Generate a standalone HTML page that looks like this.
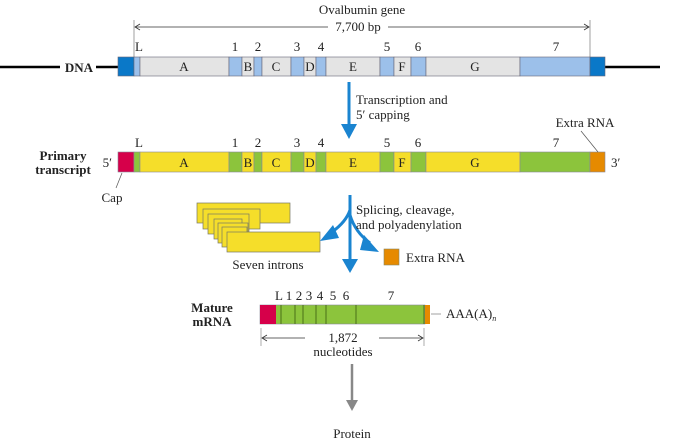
<!DOCTYPE html>
<html><head><meta charset="utf-8"><style>
body{margin:0;background:#fff}
svg{display:block}
text{font-family:"Liberation Serif",serif;font-size:13px;fill:#222}
.b{font-weight:bold}
</style></head><body>
<svg width="692" height="441" viewBox="0 0 692 441">
<!-- title -->
<text x="362" y="14" text-anchor="middle" font-size="14">Ovalbumin gene</text>
<line x1="134" y1="20" x2="134" y2="57" stroke="#888" stroke-width="0.8"/>
<line x1="590" y1="20" x2="590" y2="57" stroke="#888" stroke-width="0.8"/>
<line x1="135" y1="27" x2="328" y2="27" stroke="#333" stroke-width="0.8"/>
<path d="M140,24 L135,27 L140,30" fill="none" stroke="#333" stroke-width="0.8"/>
<line x1="388" y1="27" x2="589" y2="27" stroke="#333" stroke-width="0.8"/>
<path d="M584,24 L589,27 L584,30" fill="none" stroke="#333" stroke-width="0.8"/>
<text x="358" y="31" text-anchor="middle">7,700 bp</text>

<!-- DNA -->
<line x1="0" y1="67" x2="60" y2="67" stroke="#000" stroke-width="2.5"/>
<line x1="96" y1="67" x2="118" y2="67" stroke="#000" stroke-width="2.5"/>
<line x1="605" y1="67" x2="660" y2="67" stroke="#000" stroke-width="2.5"/>
<text x="93" y="72" text-anchor="end" class="b">DNA</text>
<g stroke="#667" stroke-width="0.6">
<rect x="118" y="57" width="16" height="19" fill="#0a78c8"/>
<rect x="134" y="57" width="6" height="19" fill="#9cc0ea"/>
<rect x="140" y="57" width="89" height="19" fill="#e4e4e4"/>
<rect x="229" y="57" width="13" height="19" fill="#9cc0ea"/>
<rect x="242" y="57" width="12" height="19" fill="#e4e4e4"/>
<rect x="254" y="57" width="8" height="19" fill="#9cc0ea"/>
<rect x="262" y="57" width="29" height="19" fill="#e4e4e4"/>
<rect x="291" y="57" width="13" height="19" fill="#9cc0ea"/>
<rect x="304" y="57" width="12" height="19" fill="#e4e4e4"/>
<rect x="316" y="57" width="10" height="19" fill="#9cc0ea"/>
<rect x="326" y="57" width="54" height="19" fill="#e4e4e4"/>
<rect x="380" y="57" width="14" height="19" fill="#9cc0ea"/>
<rect x="394" y="57" width="17" height="19" fill="#e4e4e4"/>
<rect x="411" y="57" width="15" height="19" fill="#9cc0ea"/>
<rect x="426" y="57" width="94" height="19" fill="#e4e4e4"/>
<rect x="520" y="57" width="70" height="19" fill="#9cc0ea"/>
<rect x="590" y="57" width="15" height="19" fill="#0a78c8"/>
</g>
<g text-anchor="middle">
<text x="184" y="71">A</text><text x="248" y="71">B</text><text x="276" y="71">C</text><text x="310" y="71">D</text><text x="353" y="71">E</text><text x="402" y="71">F</text><text x="475" y="71">G</text>
<text x="139" y="51">L</text><text x="235" y="51">1</text><text x="258" y="51">2</text><text x="297" y="51">3</text><text x="321" y="51">4</text><text x="387" y="51">5</text><text x="418" y="51">6</text><text x="556" y="51">7</text>
</g>

<!-- arrow 1 -->
<line x1="349" y1="82" x2="349" y2="127" stroke="#1a84d0" stroke-width="3"/>
<path d="M341,124 L349,139 L357,124 Z" fill="#1a84d0"/>
<text x="356" y="104">Transcription and</text>
<text x="356" y="119">5′ capping</text>

<!-- primary transcript -->
<text x="63" y="160" text-anchor="middle" class="b">Primary</text>
<text x="63" y="174" text-anchor="middle" class="b">transcript</text>
<text x="112" y="167" text-anchor="end">5′</text>
<text x="611" y="167">3′</text>
<g stroke="#889" stroke-width="0.6">
<rect x="118" y="152" width="16" height="20" fill="#d6004a"/>
<rect x="134" y="152" width="6" height="20" fill="#8cc43c"/>
<rect x="140" y="152" width="89" height="20" fill="#f5de2a"/>
<rect x="229" y="152" width="13" height="20" fill="#8cc43c"/>
<rect x="242" y="152" width="12" height="20" fill="#f5de2a"/>
<rect x="254" y="152" width="8" height="20" fill="#8cc43c"/>
<rect x="262" y="152" width="29" height="20" fill="#f5de2a"/>
<rect x="291" y="152" width="13" height="20" fill="#8cc43c"/>
<rect x="304" y="152" width="12" height="20" fill="#f5de2a"/>
<rect x="316" y="152" width="10" height="20" fill="#8cc43c"/>
<rect x="326" y="152" width="54" height="20" fill="#f5de2a"/>
<rect x="380" y="152" width="14" height="20" fill="#8cc43c"/>
<rect x="394" y="152" width="17" height="20" fill="#f5de2a"/>
<rect x="411" y="152" width="15" height="20" fill="#8cc43c"/>
<rect x="426" y="152" width="94" height="20" fill="#f5de2a"/>
<rect x="520" y="152" width="70" height="20" fill="#8cc43c"/>
<rect x="590" y="152" width="15" height="20" fill="#e68a00"/>
</g>
<g text-anchor="middle">
<text x="184" y="167">A</text><text x="248" y="167">B</text><text x="276" y="167">C</text><text x="310" y="167">D</text><text x="353" y="167">E</text><text x="402" y="167">F</text><text x="475" y="167">G</text>
<text x="139" y="147">L</text><text x="235" y="147">1</text><text x="258" y="147">2</text><text x="297" y="147">3</text><text x="321" y="147">4</text><text x="387" y="147">5</text><text x="418" y="147">6</text><text x="556" y="147">7</text>
</g>
<line x1="122" y1="173" x2="116" y2="188" stroke="#555" stroke-width="0.7"/>
<text x="112" y="202" text-anchor="middle">Cap</text>
<line x1="581" y1="131" x2="598" y2="152" stroke="#555" stroke-width="0.7"/>
<text x="585" y="127" text-anchor="middle">Extra RNA</text>

<!-- introns -->
<g fill="#f5de2a" stroke="#776" stroke-width="0.7">
<rect x="197" y="203" width="93" height="20"/>
<rect x="203" y="209" width="57" height="20"/>
<rect x="208" y="214" width="41" height="20"/>
<rect x="214" y="219" width="28" height="20"/>
<rect x="218" y="223" width="30" height="20"/>
<rect x="222" y="227" width="25" height="20"/>
<rect x="227" y="232" width="93" height="20"/>
</g>
<text x="268" y="269" text-anchor="middle">Seven introns</text>

<!-- arrow 2 -->
<g stroke="#1a84d0" stroke-width="3" fill="none">
<line x1="350" y1="195" x2="350" y2="262"/>
<path d="M350,210 Q346,222 332,232"/>
<path d="M350,215 Q355,232 370,243"/>
</g>
<path d="M342,259 L350,273 L358,259 Z" fill="#1a84d0"/>
<path d="M320,241 L333,225 L339,238 Z" fill="#1a84d0"/>
<path d="M364,235 L379,252 L360,250 Z" fill="#1a84d0"/>
<text x="356" y="214">Splicing, cleavage,</text>
<text x="356" y="229">and polyadenylation</text>
<rect x="384" y="249" width="15" height="16" fill="#e68a00" stroke="#886" stroke-width="0.6"/>
<text x="406" y="262">Extra RNA</text>

<!-- mature mRNA -->
<text x="212" y="312" text-anchor="middle" class="b">Mature</text>
<text x="212" y="326" text-anchor="middle" class="b">mRNA</text>
<rect x="260" y="305" width="165" height="19" fill="#8cc43c" stroke="#889" stroke-width="0.6"/>
<rect x="260" y="305" width="16" height="19" fill="#d6004a"/>
<rect x="425" y="305" width="5" height="19" fill="#e68a00"/>
<g stroke="#3a5a10" stroke-width="0.8">
<line x1="281" y1="305" x2="281" y2="324"/><line x1="295" y1="305" x2="295" y2="324"/><line x1="303" y1="305" x2="303" y2="324"/><line x1="316" y1="305" x2="316" y2="324"/><line x1="326" y1="305" x2="326" y2="324"/><line x1="356" y1="305" x2="356" y2="324"/><line x1="424" y1="305" x2="424" y2="324"/>
</g>
<g text-anchor="middle">
<text x="279" y="300">L</text><text x="289" y="300">1</text><text x="299" y="300">2</text><text x="309" y="300">3</text><text x="320" y="300">4</text><text x="333" y="300">5</text><text x="346" y="300">6</text><text x="391" y="300">7</text>
</g>
<line x1="431" y1="314" x2="441" y2="314" stroke="#777" stroke-width="0.7"/>
<text x="446" y="318">AAA(A)<tspan font-size="8" font-style="italic" dy="3">n</tspan></text>
<line x1="261" y1="328" x2="261" y2="346" stroke="#888" stroke-width="0.7"/>
<line x1="424" y1="328" x2="424" y2="346" stroke="#888" stroke-width="0.7"/>
<line x1="262" y1="338" x2="305" y2="338" stroke="#333" stroke-width="0.8"/>
<path d="M267,335 L262,338 L267,341" fill="none" stroke="#333" stroke-width="0.8"/>
<line x1="379" y1="338" x2="423" y2="338" stroke="#333" stroke-width="0.8"/>
<path d="M418,335 L423,338 L418,341" fill="none" stroke="#333" stroke-width="0.8"/>
<text x="343" y="342" text-anchor="middle" font-size="14">1,872</text>
<text x="343" y="356" text-anchor="middle" font-size="14">nucleotides</text>

<!-- gray arrow -->
<line x1="352" y1="364" x2="352" y2="402" stroke="#888" stroke-width="2.5"/>
<path d="M346,400 L352,411 L358,400 Z" fill="#888"/>
<text x="352" y="438" text-anchor="middle" font-size="15">Protein</text>
</svg>
</body></html>
